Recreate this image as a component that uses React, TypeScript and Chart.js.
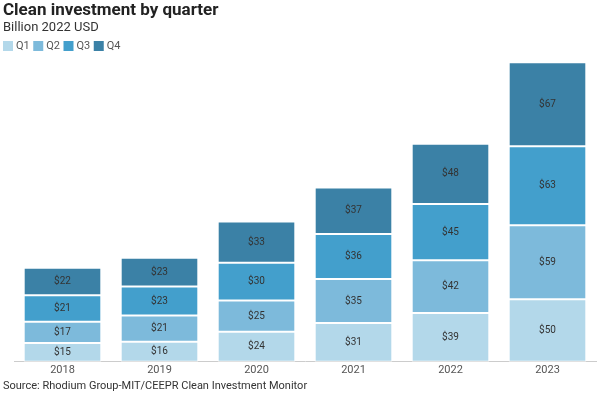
import React, { useEffect, useRef } from "react";
import { Chart, registerables } from "chart.js";

Chart.register(...registerables);

const years = ["2018", "2019", "2020", "2021", "2022", "2023"];
const q1 = [15, 16, 24, 31, 39, 50];
const q2 = [17, 21, 25, 35, 42, 59];
const q3 = [21, 23, 30, 36, 45, 63];
const q4 = [22, 23, 33, 37, 48, 67];
const seriesNames = ["Q1", "Q2", "Q3", "Q4"];
const seriesColors = ["#b3d8ea", "#7dbadb", "#439fcc", "#3b81a6"];
const titleText = "Clean investment by quarter";
const subtitleText = "Billion 2022 USD";
const sourceText = "Source: Rhodium Group-MIT/CEEPR Clean Investment Monitor";

const FONT = "Roboto, 'Noto Sans', sans-serif";

export default function App() {
  const ref = useRef<HTMLCanvasElement | null>(null);
  useEffect(() => {
    document.body.style.margin = "0";
    const series = [q1, q2, q3, q4];
    const labelPlugin = {
      id: "barLabels",
      afterDatasetsDraw(chart: any) {
        const ctx = chart.ctx;
        ctx.save();
        ctx.font = `10px ${FONT}`;
        ctx.fillStyle = "#333333";
        ctx.textAlign = "center";
        ctx.textBaseline = "middle";
        chart.data.datasets.forEach((ds: any, i: number) => {
          const meta = chart.getDatasetMeta(i);
          meta.data.forEach((bar: any, j: number) => {
            const y = (bar.y + bar.base) / 2;
            ctx.fillText("$" + ds.data[j], bar.x, y);
          });
        });
        ctx.restore();
      },
    };
    const headerPlugin = {
      id: "header",
      afterDraw(chart: any) {
        const ctx = chart.ctx;
        ctx.save();
        ctx.textAlign = "left";
        ctx.textBaseline = "middle";
        ctx.fillStyle = "#222222";
        ctx.font = `bold 17px ${FONT}`;
        ctx.fillText(titleText, 3, 11);
        ctx.fillStyle = "#333333";
        ctx.font = `13px ${FONT}`;
        ctx.fillText(subtitleText, 3, 28);
        ctx.font = `11px ${FONT}`;
        let x = 3;
        seriesNames.forEach((name, i) => {
          ctx.fillStyle = seriesColors[i];
          ctx.fillRect(x, 41, 10, 10);
          ctx.fillStyle = "#555555";
          ctx.fillText(name, x + 13, 46.5);
          x += 13 + ctx.measureText(name).width + 3.5;
        });
        ctx.fillStyle = "#333333";
        ctx.font = `11px ${FONT}`;
        ctx.fillText(sourceText, 3, 386);
        ctx.restore();
      },
    };
    const chart = new Chart(ref.current as HTMLCanvasElement, {
      type: "bar",
      data: {
        labels: years,
        datasets: series.map((d, i) => ({
          label: seriesNames[i],
          data: d,
          backgroundColor: seriesColors[i],
          borderColor: "#ffffff",
          borderWidth: 1,
          borderSkipped: false,
          barPercentage: 0.8,
          categoryPercentage: 1,
        })),
      },
      options: {
        animation: false,
        responsive: false,
        maintainAspectRatio: false,
        layout: { padding: { left: 14, right: 4, top: 61, bottom: 14 } },
        plugins: {
          title: { display: false },
          subtitle: { display: false },
          legend: { display: false },
          tooltip: { enabled: false },
        },
        scales: {
          x: {
            stacked: true,
            grid: { display: false, drawTicks: false },
            border: { display: true, color: "#cccccc" },
            ticks: { color: "#555555", font: { family: FONT, size: 11 }, padding: 2 },
          },
          y: {
            stacked: true,
            display: false,
            min: 0,
            max: 240,
          },
        },
      },
      plugins: [labelPlugin, headerPlugin],
    } as any);
    return () => chart.destroy();
  }, []);
  return (
    <div style={{ width: 600, height: 393 }}>
      <canvas ref={ref} width={600} height={393} style={{ display: "block" }} />
    </div>
  );
}
